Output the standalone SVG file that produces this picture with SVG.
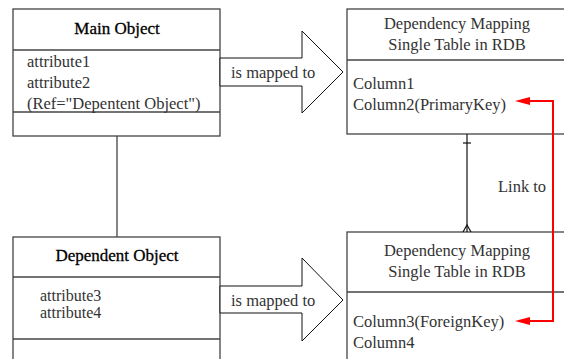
<svg xmlns="http://www.w3.org/2000/svg" width="564" height="359" viewBox="0 0 564 359">
<style>
.box{fill:#fff;stroke:#444;stroke-width:1.3}
.div{stroke:#444;stroke-width:1.3}
.arrow{fill:#fff;stroke:#111;stroke-width:1}
text{font-family:"Liberation Serif","Times New Roman",serif;font-size:16.5px;fill:#333}
.title{fill:#000;font-size:17px;stroke:#000;stroke-width:0.3}
.mid{text-anchor:middle}
.tight{font-size:16px}
</style>
<defs>
<marker id="red" viewBox="0 0 16 10" refX="1" refY="5" markerWidth="16" markerHeight="10" markerUnits="userSpaceOnUse" orient="auto-start-reverse">
<path d="M16,1 L1,5 L16,9 Z" fill="#f00" transform="rotate(180 8 5)"/>
</marker>
</defs>
<g id="main-object">
<rect class="box" x="13" y="9" width="207" height="127"/>
<line class="div" x1="13" y1="50" x2="220" y2="50"/>
<line class="div" x1="13" y1="112" x2="220" y2="112"/>
<text class="title mid" x="117" y="34">Main Object</text>
<text x="27" y="67">attribute1</text>
<text x="27" y="88">attribute2</text>
<text x="27" y="109">(Ref="Depentent Object")</text>
</g>
<g id="dependent-object">
<rect class="box" x="13" y="237" width="207" height="140"/>
<line class="div" x1="13" y1="277" x2="220" y2="277"/>
<line class="div" x1="13" y1="339" x2="220" y2="339"/>
<text class="title mid" x="117" y="261">Dependent Object</text>
<text class="tight" x="40" y="301">attribute3</text>
<text class="tight" x="40" y="318">attribute4</text>
</g>
<g id="table-top">
<rect class="box" x="347" y="9" width="230" height="125"/>
<line class="div" x1="347" y1="60" x2="577" y2="60"/>
<text class="mid" x="457" y="29">Dependency Mapping</text>
<text class="mid" x="457" y="50">Single Table in RDB</text>
<text x="353" y="89">Column1</text>
<text x="353" y="110">Column2(PrimaryKey)</text>
</g>
<g id="table-bottom">
<rect class="box" x="347" y="232" width="230" height="140"/>
<line class="div" x1="347" y1="292" x2="577" y2="292"/>
<text class="mid" x="457" y="256">Dependency Mapping</text>
<text class="mid" x="457" y="277">Single Table in RDB</text>
<text x="353" y="327">Column3(ForeignKey)</text>
<text x="353" y="348">Column4</text>
</g>
<g id="connectors">
<line x1="117" y1="136" x2="117" y2="237" stroke="#444" stroke-width="1.3"/>
<polygon class="arrow" points="220,58 302,58 302,31 343,72 302,113 302,86 220,86"/>
<text x="231" y="78">is mapped to</text>
<polygon class="arrow" points="220,286 302,286 302,258 343,300 302,341 302,313 220,313"/>
<text x="231" y="306">is mapped to</text>
<g stroke="#111" stroke-width="1.2" fill="none">
<line x1="467" y1="134" x2="467" y2="232"/>
<line x1="463" y1="143" x2="471" y2="143"/>
<polyline points="463,232 467,225 471,232"/>
</g>
<text x="498" y="192">Link to</text>
<path d="M529,101 H553 V321 H529" fill="none" stroke="#f00" stroke-width="2" marker-start="url(#red)" marker-end="url(#red)"/>
</g>
</svg>
